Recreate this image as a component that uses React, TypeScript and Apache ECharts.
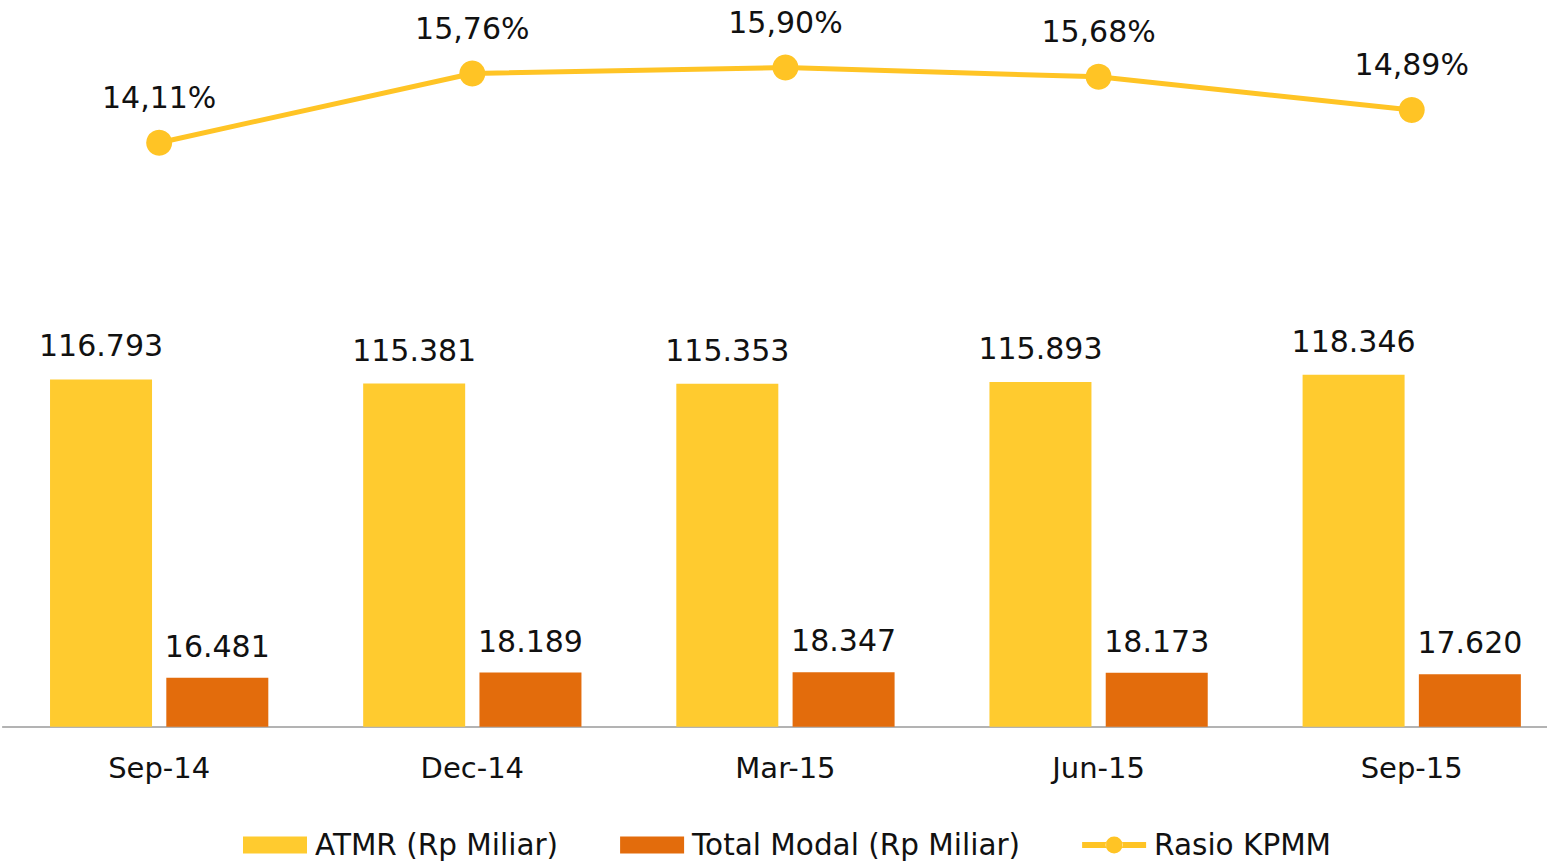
import React, { useEffect, useRef } from "react";
import * as echarts from "echarts";

const categories = ["Sep-14", "Dec-14", "Mar-15", "Jun-15", "Sep-15"];
const atmr = [116793, 115381, 115353, 115893, 118346];
const totalModal = [16481, 18189, 18347, 18173, 17620];
const kpmm = [14.11, 15.76, 15.9, 15.68, 14.89];

const seriesNames = ["ATMR (Rp Miliar)", "Total Modal (Rp Miliar)", "Rasio KPMM"];

const FONT = "'DejaVu Sans', Verdana, sans-serif";

const fmtThousands = (v: number) =>
  String(Math.round(v)).replace(/\B(?=(\d{3})+(?!\d))/g, ".");
const fmtPct = (v: number) => v.toFixed(2).replace(".", ",") + "%";

const lineLegendIcon =
  "path://M0,5.5L24,5.5L24,11.5L0,11.5Z M23.5,8.5A8.5,8.5,0,1,0,40.5,8.5A8.5,8.5,0,1,0,23.5,8.5Z M40,5.5L64,5.5L64,11.5L40,11.5Z";

export default function App() {
  const ref = useRef<HTMLDivElement>(null);

  useEffect(() => {
    if (!ref.current) return;
    const chart = echarts.init(ref.current, undefined, { renderer: "svg" });
    chart.setOption({
      animation: false,
      backgroundColor: "#ffffff",
      textStyle: { fontFamily: FONT },
      grid: {
        left: 2.6,
        right: -21.3,
        top: 13,
        bottom: 135.3,
        containLabel: false,
        outerBoundsMode: "none",
      },
      legend: {
        left: 238,
        top: 825,
        itemWidth: 64,
        itemHeight: 17,
        itemGap: 62,
        textStyle: { fontFamily: FONT, fontSize: 29.5, color: "#111", padding: [0, 0, 0, 3] },
        data: [
          { name: seriesNames[0], icon: "rect" },
          { name: seriesNames[1], icon: "rect" },
          { name: seriesNames[2], icon: lineLegendIcon },
        ],
      },
      xAxis: {
        type: "category",
        data: categories,
        axisTick: { show: false },
        axisLine: { show: true, lineStyle: { color: "#9a9a9a", width: 1.5 } },
        axisLabel: { fontFamily: FONT, fontSize: 29, color: "#111", margin: 27 },
      },
      yAxis: [
        { type: "value", min: 0, max: 240000, show: false, splitLine: { show: false } },
        { type: "value", min: 0.2, max: 17.2, show: false, splitLine: { show: false } },
      ],
      series: [
        {
          name: seriesNames[0],
          type: "bar",
          yAxisIndex: 0,
          data: atmr,
          barWidth: 102,
          barGap: "14%",
          itemStyle: { color: "#FFCB2F" },
          label: {
            show: true,
            position: "top",
            distance: 18.5,
            fontFamily: FONT,
            fontSize: 30,
            color: "#111",
            formatter: (p: any) => fmtThousands(p.value),
          },
        },
        {
          name: seriesNames[1],
          type: "bar",
          yAxisIndex: 0,
          data: totalModal,
          barWidth: 102,
          barGap: "14%",
          itemStyle: { color: "#E36C0C" },
          label: {
            show: true,
            position: "top",
            distance: 16.5,
            fontFamily: FONT,
            fontSize: 30,
            color: "#111",
            formatter: (p: any) => fmtThousands(p.value),
          },
        },
        {
          name: seriesNames[2],
          type: "line",
          yAxisIndex: 1,
          data: kpmm,
          symbol: "circle",
          symbolSize: 26,
          lineStyle: { color: "#FFC425", width: 5 },
          itemStyle: { color: "#FFC425" },
          label: {
            show: true,
            position: "top",
            distance: 17,
            fontFamily: FONT,
            fontSize: 30,
            color: "#111",
            formatter: (p: any) => fmtPct(p.value),
          },
        },
      ],
    });
    return () => chart.dispose();
  }, []);

  return (
    <div
      ref={ref}
      style={{ position: "absolute", left: 0, top: 0, width: 1547, height: 862, background: "#fff" }}
    />
  );
}
